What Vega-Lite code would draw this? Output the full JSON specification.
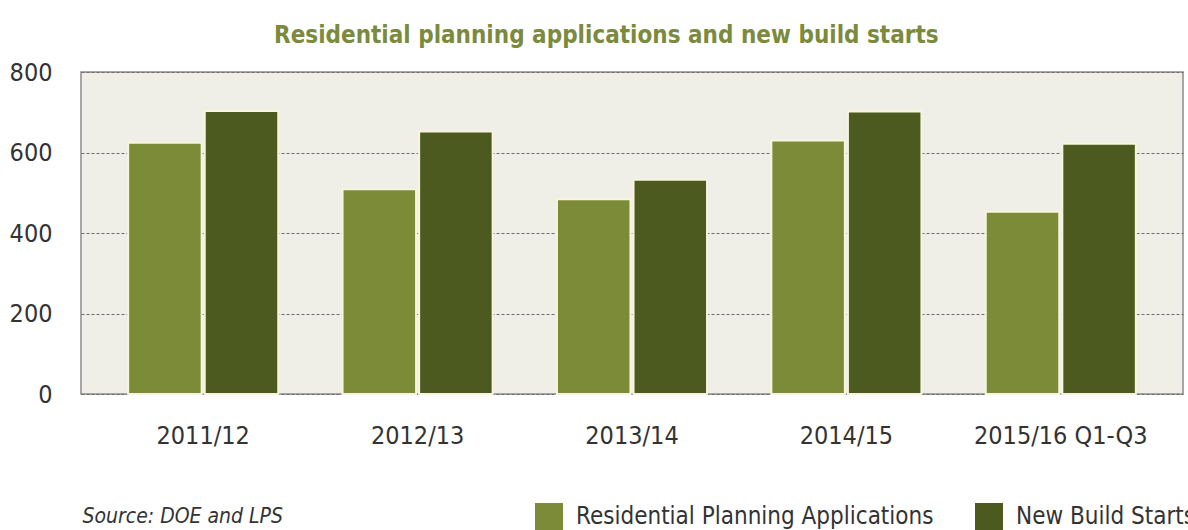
{
  "$schema": "https://vega.github.io/schema/vega-lite/v6.json",
  "width": 1102,
  "height": 322,
  "autosize": {"type": "none"},
  "padding": {"left": 81, "top": 72, "right": 5, "bottom": 136},
  "background": "#ffffff",
  "title": {
    "text": "Residential planning applications and new build starts",
    "anchor": "start",
    "frame": "group",
    "dx": 193,
    "offset": -7,
    "baseline": "alphabetic",
    "font": "'Liberation Sans Narrow', 'DejaVu Sans Condensed', sans-serif",
    "fontSize": 24,
    "fontWeight": "bold",
    "color": "#7b8a3c"
  },
  "config": {
    "view": {"fill": "#efeee7", "stroke": "#8c8c8c", "strokeWidth": 1.5},
    "font": "'Liberation Sans Narrow', 'DejaVu Sans Condensed', sans-serif"
  },
  "data": {
    "values": [
      {"period": "2011/12", "series": "Residential Planning Applications", "value": 624},
      {"period": "2011/12", "series": "New Build Starts", "value": 703},
      {"period": "2012/13", "series": "Residential Planning Applications", "value": 509},
      {"period": "2012/13", "series": "New Build Starts", "value": 652},
      {"period": "2013/14", "series": "Residential Planning Applications", "value": 484},
      {"period": "2013/14", "series": "New Build Starts", "value": 532},
      {"period": "2014/15", "series": "Residential Planning Applications", "value": 630},
      {"period": "2014/15", "series": "New Build Starts", "value": 702},
      {"period": "2015/16 Q1-Q3", "series": "Residential Planning Applications", "value": 453},
      {"period": "2015/16 Q1-Q3", "series": "New Build Starts", "value": 622}
    ]
  },
  "mark": {"type": "bar", "stroke": "#f7f5de", "strokeWidth": 2},
  "encoding": {
    "x": {
      "field": "period",
      "type": "nominal",
      "sort": null,
      "scale": {"paddingInner": 0.3, "paddingOuter": 0.22},
      "axis": {
        "title": "Source: DOE and LPS",
        "titleFontSize": 21,
        "titleFontStyle": "italic",
        "titleFontWeight": "normal",
        "titleColor": "#333333",
        "titleAnchor": "start",
        "titleAlign": "left",
        "titleBaseline": "alphabetic",
        "titleX": 1,
        "titleY": 128,
        "labelAngle": 0,
        "labelFontSize": 25,
        "labelColor": "#333333",
        "labelBaseline": "alphabetic",
        "labelPadding": 49,
        "labelLimit": 0,
        "ticks": false,
        "tickSize": 0,
        "domain": false,
        "grid": false
      }
    },
    "xOffset": {
      "field": "series",
      "type": "nominal",
      "sort": ["Residential Planning Applications", "New Build Starts"],
      "scale": {"paddingInner": 0.04, "paddingOuter": 0}
    },
    "y": {
      "field": "value",
      "type": "quantitative",
      "scale": {"domain": [0, 800], "nice": false},
      "axis": {
        "title": null,
        "values": [0, 200, 400, 600, 800],
        "labelFontSize": 25,
        "labelColor": "#333333",
        "labelPadding": 29,
        "ticks": false,
        "tickSize": 0,
        "domain": false,
        "grid": true,
        "gridColor": "#6e6e6e",
        "gridDash": [3, 2],
        "gridWidth": 1
      }
    },
    "color": {
      "field": "series",
      "type": "nominal",
      "sort": ["Residential Planning Applications", "New Build Starts"],
      "scale": {"range": ["#7b8b37", "#4c5a1f"]},
      "legend": {
        "title": null,
        "orient": "none",
        "direction": "horizontal",
        "legendX": 454,
        "legendY": 431,
        "symbolType": "square",
        "symbolSize": 784,
        "symbolStrokeWidth": 0,
        "symbolOpacity": 1,
        "labelFontSize": 24,
        "labelColor": "#333333",
        "labelOffset": 13,
        "labelLimit": 0,
        "columnPadding": 41
      }
    }
  }
}
